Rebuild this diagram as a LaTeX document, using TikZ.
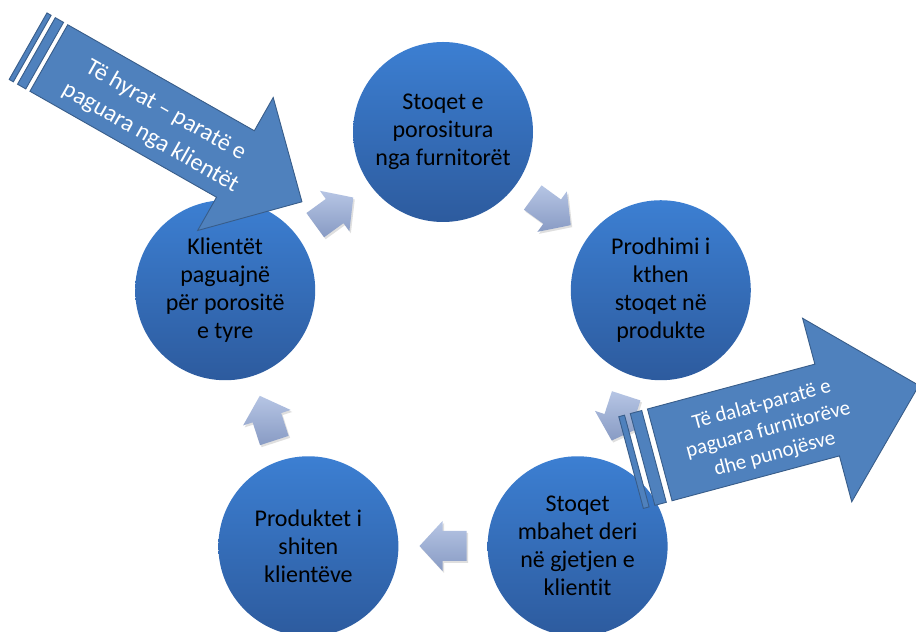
\documentclass[tikz,border=0pt]{standalone}
\usepackage{fontspec}
\setmainfont{Carlito}[Ligatures={NoCommon}]
\usetikzlibrary{shadows,calc}
\definecolor{circtop}{RGB}{60,127,210}
\definecolor{circbot}{RGB}{45,91,158}
\definecolor{arrtop}{RGB}{182,197,228}
\definecolor{arrbot}{RGB}{136,155,196}
\definecolor{bigfill}{RGB}{79,129,189}
\definecolor{bigline}{RGB}{56,93,138}
\begin{document}
\begin{tikzpicture}[x=1pt,y=1pt,
  stage/.style={circle, minimum size=180pt, inner sep=0pt, top color=circtop, bottom color=circbot,
    font=\fontsize{24}{28}\selectfont, align=center, text=black},
  flowarrow/.style={top color=arrtop, bottom color=arrbot,
    drop shadow={opacity=0.25, shadow xshift=1.5pt, shadow yshift=-2pt}},
  bigarrow/.style={fill=bigfill, draw=bigline, line width=0.9pt, line join=miter},
  flow/.pic={\path[flowarrow] (-23.5,-15) -- (0.5,-15) -- (0.5,-25) -- (23.5,0) -- (0.5,25) -- (0.5,15) -- (-23.5,15) -- cycle;}
]
\fill[white] (0,0) rectangle (916,632);
\useasboundingbox (0,0) rectangle (916,632);
\coordinate (ctr) at (443,271);

% stages
\node[stage] (s1) at ($(ctr)+(90:229)$) {Stoqet e\\porositura\\nga furnitorët};
\node[stage] (s2) at ($(ctr)+(18:229)$) {Prodhimi i\\kthen\\stoqet në\\produkte};
\node[stage] (s3) at ($(ctr)+(-54:229)$) {Stoqet\\mbahet deri\\në gjetjen e\\klientit};
\node[stage] (s4) at ($(ctr)+(-126:229)$) {Produktet i\\shiten\\klientëve};
\node[stage] (s5) at ($(ctr)+(162:229)$) {Klientët\\paguajnë\\për porositë\\e tyre};

% flow arrows between stages
\coordinate (a12) at ($(ctr)+(54:185)$);
\coordinate (a23) at ($(ctr)+(-18:185)$);
\coordinate (a34) at ($(ctr)+(-90:185)$);
\coordinate (a45) at ($(ctr)+(-162:185)$);
\coordinate (a51) at ($(ctr)+(126:185)$);
\pic[rotate=-36] at (a12) {flow};
\pic[rotate=-108] at (a23) {flow};
\pic[rotate=180] at (a34) {flow};
\pic[rotate=108] at (a45) {flow};
\pic[rotate=36] at (a51) {flow};

% incoming money arrow
\begin{scope}[shift={(165,508)}, rotate=-29.6]
  \path[bigarrow] (-157.5,-38.25) rectangle (-152.7,38.25);
  \path[bigarrow] (-147.9,-38.25) rectangle (-138.4,38.25);
  \path[bigarrow] (-133.6,-38.25) -- (81,-38.25) -- (81,-76.5) -- (157.5,0) -- (81,76.5) -- (81,38.25) -- (-133.6,38.25) -- cycle;
  \node[text=white, align=center, rotate=-29.6, font=\fontsize{24}{31}\selectfont] (inA) at (-6,-3.5) {Të hyrat – paratë e\\paguara nga klientët};
\end{scope}

% outgoing money arrow
\begin{scope}[shift={(775,208)}, rotate=15]
  \path[bigarrow] (-149,-47.5) rectangle (-143.06,47.5);
  \path[bigarrow] (-137.1,-47.5) rectangle (-125.25,47.5);
  \path[bigarrow] (-119.3,-47.5) -- (54,-47.5) -- (54,-95) -- (149,0) -- (54,95) -- (54,47.5) -- (-119.3,47.5) -- cycle;
  \node[text=white, align=center, rotate=15, font=\fontsize{21}{25.5}\selectfont] (outB) at (-8,-4) {Të dalat-paratë e\\paguara furnitorëve\\dhe punojësve};
\end{scope}
\end{tikzpicture}
\end{document}
